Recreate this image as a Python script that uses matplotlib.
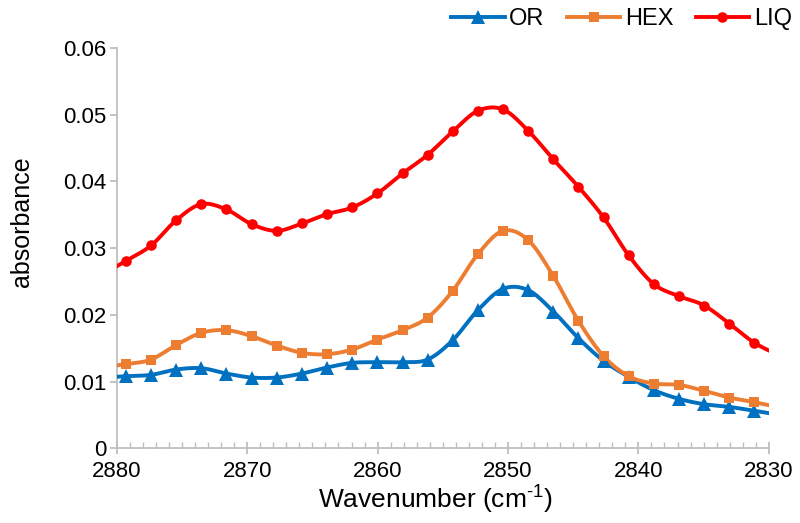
import numpy as np
import matplotlib
matplotlib.use("Agg")
import matplotlib.pyplot as plt
from matplotlib.ticker import MultipleLocator, FixedLocator

plt.rcParams['font.family'] = ['Liberation Sans', 'DejaVu Sans']
plt.rcParams['mathtext.fontset'] = 'custom'
plt.rcParams['mathtext.rm'] = 'Liberation Sans'
plt.rcParams['mathtext.it'] = 'Liberation Sans'

# wavenumbers (cm-1); first and last points lie just outside the visible range
wavenumber = [2881.23, 2879.30, 2877.37, 2875.44, 2873.52, 2871.59, 2869.66,
              2867.73, 2865.80, 2863.88, 2861.95, 2860.02, 2858.09, 2856.16,
              2854.24, 2852.31, 2850.38, 2848.45, 2846.52, 2844.60, 2842.67,
              2840.74, 2838.81, 2836.88, 2834.96, 2833.03, 2831.10, 2829.17]

or_vals = [0.0106, 0.0108, 0.0110, 0.0118, 0.0120, 0.0112, 0.0106,
           0.0106, 0.0112, 0.0121, 0.0128, 0.0129, 0.0129, 0.0133,
           0.0162, 0.0207, 0.0239, 0.0237, 0.0205, 0.0165, 0.0131,
           0.0107, 0.0087, 0.0074, 0.0066, 0.0062, 0.0056, 0.0050]

hex_vals = [0.0121, 0.0126, 0.0133, 0.0155, 0.0173, 0.0177, 0.0168,
            0.0154, 0.0143, 0.0141, 0.0148, 0.0163, 0.0177, 0.0196,
            0.0236, 0.0291, 0.0326, 0.0312, 0.0258, 0.0191, 0.0138,
            0.0108, 0.0097, 0.0095, 0.0086, 0.0076, 0.0069, 0.0061]

liq_vals = [0.0259, 0.0281, 0.0304, 0.0342, 0.0366, 0.0358, 0.0336,
            0.0326, 0.0337, 0.0351, 0.0361, 0.0382, 0.0412, 0.0440,
            0.0475, 0.0506, 0.0508, 0.0476, 0.0433, 0.0392, 0.0346,
            0.0289, 0.0246, 0.0228, 0.0214, 0.0187, 0.0158, 0.0139]

series_names = ["OR", "HEX", "LIQ"]
series_colors = ["#0070C0", "#ED7D31", "#FF0000"]
series_markers = ["^", "s", "o"]
yticks = [0, 0.01, 0.02, 0.03, 0.04, 0.05, 0.06]
yticklabels = ["0", "0.01", "0.02", "0.03", "0.04", "0.05", "0.06"]
xticks = [2880, 2870, 2860, 2850, 2840, 2830]


def smooth(x, y, n=20):
    """Excel-like smoothed line (Catmull-Rom style Bezier) through the points."""
    x = np.asarray(x, float)
    y = np.asarray(y, float)
    P = np.column_stack([x, y])
    out = []
    m = len(P)
    t = np.linspace(0, 1, n, endpoint=False)[:, None]
    for i in range(m - 1):
        p0 = P[i - 1] if i > 0 else P[i]
        p1 = P[i]
        p2 = P[i + 1]
        p3 = P[i + 2] if i + 2 < m else P[i + 1]
        c1 = p1 + (p2 - p0) / 6.0
        c2 = p2 - (p3 - p1) / 6.0
        seg = ((1 - t) ** 3) * p1 + 3 * ((1 - t) ** 2) * t * c1 + 3 * (1 - t) * t ** 2 * c2 + t ** 3 * p2
        out.append(seg)
    out.append(P[-1][None, :])
    S = np.vstack(out)
    return S[:, 0], S[:, 1]


fig = plt.figure(figsize=(8.0, 5.23), dpi=100)
ax = fig.add_axes([0.146, 0.143, 0.815, 0.765])

msizes = [9.5, 7.5, 7.6]
lw = 2.8
for vals, name, col, mk, ms in zip([or_vals, hex_vals, liq_vals], series_names,
                                   series_colors, series_markers, msizes):
    sx, sy = smooth(wavenumber, vals)
    ax.plot(sx, sy, color=col, lw=lw, solid_capstyle='round', zorder=3)
    ax.plot(wavenumber, vals, linestyle='none', marker=mk, ms=ms, color=col,
            markeredgewidth=0, zorder=4)
    ax.plot([], [], color=col, lw=lw, marker=mk, ms=ms, markeredgewidth=0, label=name)

ax.set_xlim(2880, 2830)
ax.set_ylim(0, 0.06)
ax.xaxis.set_major_locator(FixedLocator(xticks))
ax.xaxis.set_minor_locator(MultipleLocator(1))
ax.set_yticks(yticks)
ax.set_yticklabels(yticklabels)

for s in ['top', 'right']:
    ax.spines[s].set_visible(False)
for s in ['left', 'bottom']:
    ax.spines[s].set_color('#BFBFBF')
    ax.spines[s].set_linewidth(1.3)

ax.tick_params(axis='y', which='major', direction='out', length=5, width=1.3,
               color='#BFBFBF', labelsize=16, pad=2.5)
ax.tick_params(axis='x', which='major', direction='inout', length=9, width=1.3,
               color='#BFBFBF', labelsize=16, pad=5)
ax.tick_params(axis='x', which='minor', direction='in', length=4, width=1.0,
               color='#BFBFBF')

ax.set_xlabel(r'Wavenumber (cm$^{\text{-1}}$)', fontsize=19)
ax.xaxis.set_label_coords(0.488, -0.13)
ax.xaxis.label.set_va('center')
ax.set_ylabel('absorbance', fontsize=18)
ax.yaxis.set_label_coords(-0.145, 0.567)
ax.yaxis.label.set_va('center')

fig.legend(loc='upper right', bbox_to_anchor=(1.0, 1.0), ncol=3, frameon=False,
           fontsize=17, handlelength=2.25, handletextpad=0.2, columnspacing=0.95,
           borderpad=0.15, borderaxespad=0.2)

fig.savefig('out.png', dpi=100)
